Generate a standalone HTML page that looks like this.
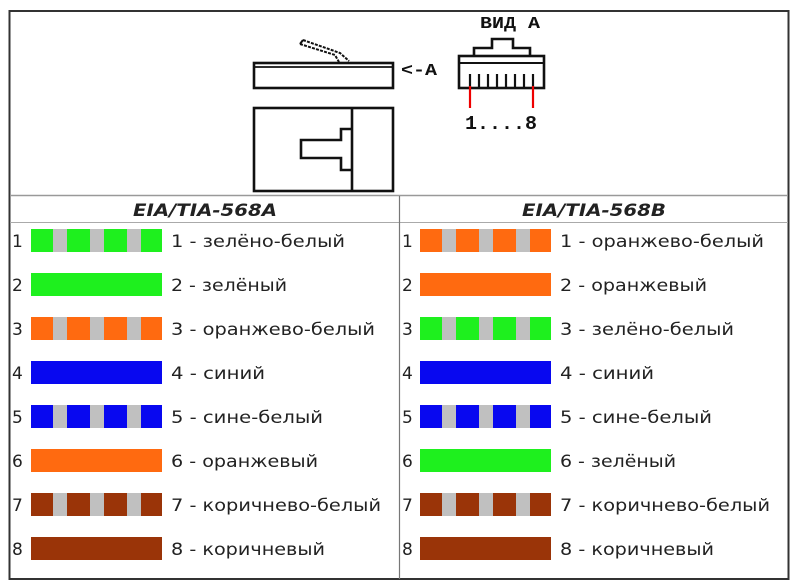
<!DOCTYPE html>
<html><head><meta charset="utf-8"><style>html,body{margin:0;padding:0;background:#fff}svg{display:block}</style></head>
<body>
<svg width="800" height="588" viewBox="0 0 800 588" xmlns="http://www.w3.org/2000/svg" font-family="'DejaVu Sans','Liberation Sans',sans-serif">
<rect x="0" y="0" width="800" height="588" fill="#fff"/>
<rect x="9.5" y="11" width="779" height="568" fill="none" stroke="#333" stroke-width="2"/>
<line x1="10" y1="195.5" x2="788" y2="195.5" stroke="#999" stroke-width="1.5"/>
<line x1="10" y1="222.5" x2="788" y2="222.5" stroke="#aaa" stroke-width="1"/>
<line x1="399.5" y1="196" x2="399.5" y2="579" stroke="#777" stroke-width="1.2"/>

<g fill="none" stroke="#111" stroke-width="2.6">
 <rect x="254" y="63" width="139" height="25"/>
 <line x1="254" y1="67" x2="393" y2="67" stroke-width="1.8"/>
 <path d="M300,44 L335,55 L339,62 M303,40 L340,53 L349,61" stroke-width="2" stroke-dasharray="3,1.2"/>
 <path d="M300,44 L303,40" stroke-width="2"/>
 <rect x="254" y="108" width="139" height="83"/>
 <line x1="352" y1="108" x2="352" y2="191"/>
 <path d="M352,129 L341,129 L341,140 L301,140 L301,158 L341,158 L341,170 L352,170"/>
 <rect x="459" y="56" width="85" height="32"/>
 <line x1="459" y1="63" x2="544" y2="63" stroke-width="2"/>
 <path d="M474,56 L474,48 L492,48 L492,39 L513,39 L513,48 L530,48 L530,56"/>
 <g stroke-width="2.2">
  <line x1="470" y1="74" x2="470" y2="88"/><line x1="479" y1="74" x2="479" y2="88"/>
  <line x1="488" y1="74" x2="488" y2="88"/><line x1="497" y1="74" x2="497" y2="88"/>
  <line x1="506" y1="74" x2="506" y2="88"/><line x1="515" y1="74" x2="515" y2="88"/>
  <line x1="524" y1="74" x2="524" y2="88"/><line x1="533" y1="74" x2="533" y2="88"/>
 </g>
</g>
<line x1="470" y1="86" x2="470" y2="108" stroke="#e00" stroke-width="2.2"/>
<line x1="533" y1="86" x2="533" y2="108" stroke="#e00" stroke-width="2.2"/>
<g font-family="'Liberation Mono',monospace" font-weight="bold" fill="#111">
 <text x="510" y="28" font-size="17" text-anchor="middle" textLength="60" lengthAdjust="spacingAndGlyphs">ВИД А</text>
 <text x="401" y="75" font-size="17" textLength="36" lengthAdjust="spacingAndGlyphs">&lt;-A</text>
 <text x="465" y="129" font-size="19" textLength="72" lengthAdjust="spacingAndGlyphs">1....8</text>
</g>

<g font-weight="bold" font-style="italic" font-size="17" fill="#222">
 <text x="205" y="216" text-anchor="middle" textLength="144" lengthAdjust="spacingAndGlyphs">EIA/TIA-568A</text>
 <text x="594" y="216" text-anchor="middle" textLength="144" lengthAdjust="spacingAndGlyphs">EIA/TIA-568B</text>
</g>

<defs>
 <g id="gs"><rect x="53" y="0" width="14" height="23" fill="#c0c0c0"/><rect x="90" y="0" width="14" height="23" fill="#c0c0c0"/><rect x="127" y="0" width="14" height="23" fill="#c0c0c0"/></g>
</defs>

<g>
 <rect x="31" y="229" width="131" height="23" fill="#1ef01e"/><use href="#gs" y="229"/>
 <rect x="31" y="273" width="131" height="23" fill="#1ef01e"/>
 <rect x="31" y="317" width="131" height="23" fill="#ff6a10"/><use href="#gs" y="317"/>
 <rect x="31" y="361" width="131" height="23" fill="#0808f0"/>
 <rect x="31" y="405" width="131" height="23" fill="#0808f0"/><use href="#gs" y="405"/>
 <rect x="31" y="449" width="131" height="23" fill="#ff6a10"/>
 <rect x="31" y="493" width="131" height="23" fill="#9a3408"/><use href="#gs" y="493"/>
 <rect x="31" y="537" width="131" height="23" fill="#9a3408"/>
</g>
<g transform="translate(389,0)">
 <rect x="31" y="229" width="131" height="23" fill="#ff6a10"/><use href="#gs" y="229"/>
 <rect x="31" y="273" width="131" height="23" fill="#ff6a10"/>
 <rect x="31" y="317" width="131" height="23" fill="#1ef01e"/><use href="#gs" y="317"/>
 <rect x="31" y="361" width="131" height="23" fill="#0808f0"/>
 <rect x="31" y="405" width="131" height="23" fill="#0808f0"/><use href="#gs" y="405"/>
 <rect x="31" y="449" width="131" height="23" fill="#1ef01e"/>
 <rect x="31" y="493" width="131" height="23" fill="#9a3408"/><use href="#gs" y="493"/>
 <rect x="31" y="537" width="131" height="23" fill="#9a3408"/>
</g>

<g font-size="17" fill="#222">
 <text x="12" y="247">1</text><text x="12" y="291">2</text><text x="12" y="335">3</text><text x="12" y="379">4</text>
 <text x="12" y="423">5</text><text x="12" y="467">6</text><text x="12" y="511">7</text><text x="12" y="555">8</text>
 <text x="402" y="247">1</text><text x="402" y="291">2</text><text x="402" y="335">3</text><text x="402" y="379">4</text>
 <text x="402" y="423">5</text><text x="402" y="467">6</text><text x="402" y="511">7</text><text x="402" y="555">8</text>

 <text x="171" y="247" textLength="174" lengthAdjust="spacingAndGlyphs">1 - зелёно-белый</text>
 <text x="171" y="291" textLength="116" lengthAdjust="spacingAndGlyphs">2 - зелёный</text>
 <text x="171" y="335" textLength="204" lengthAdjust="spacingAndGlyphs">3 - оранжево-белый</text>
 <text x="171" y="379" textLength="94" lengthAdjust="spacingAndGlyphs">4 - синий</text>
 <text x="171" y="423" textLength="152" lengthAdjust="spacingAndGlyphs">5 - сине-белый</text>
 <text x="171" y="467" textLength="147" lengthAdjust="spacingAndGlyphs">6 - оранжевый</text>
 <text x="171" y="511" textLength="210" lengthAdjust="spacingAndGlyphs">7 - коричнево-белый</text>
 <text x="171" y="555" textLength="154" lengthAdjust="spacingAndGlyphs">8 - коричневый</text>

 <text x="560" y="247" textLength="204" lengthAdjust="spacingAndGlyphs">1 - оранжево-белый</text>
 <text x="560" y="291" textLength="147" lengthAdjust="spacingAndGlyphs">2 - оранжевый</text>
 <text x="560" y="335" textLength="174" lengthAdjust="spacingAndGlyphs">3 - зелёно-белый</text>
 <text x="560" y="379" textLength="94" lengthAdjust="spacingAndGlyphs">4 - синий</text>
 <text x="560" y="423" textLength="152" lengthAdjust="spacingAndGlyphs">5 - сине-белый</text>
 <text x="560" y="467" textLength="116" lengthAdjust="spacingAndGlyphs">6 - зелёный</text>
 <text x="560" y="511" textLength="210" lengthAdjust="spacingAndGlyphs">7 - коричнево-белый</text>
 <text x="560" y="555" textLength="154" lengthAdjust="spacingAndGlyphs">8 - коричневый</text>
</g>
</svg>
</body></html>
